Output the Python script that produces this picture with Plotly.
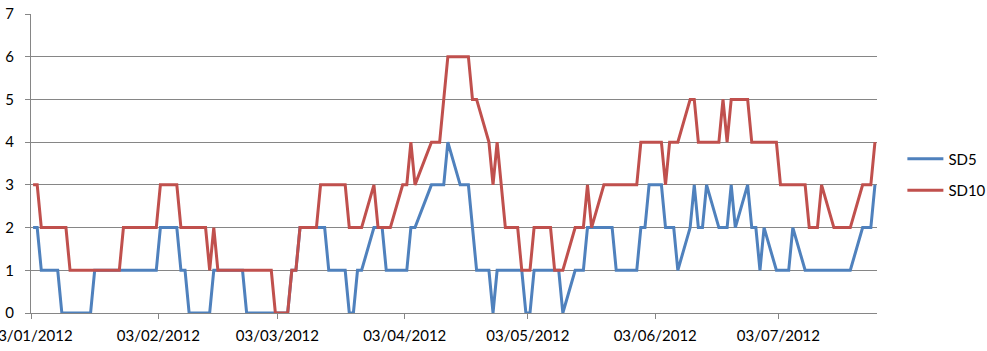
import plotly.graph_objects as go
import pandas as pd

# ---- data ----
sd5_dates = ["2012-01-03","2012-01-04","2012-01-05","2012-01-09","2012-01-10","2012-01-17","2012-01-18",
             "2012-02-02","2012-02-03","2012-02-07","2012-02-08","2012-02-09","2012-02-10","2012-02-15",
             "2012-02-16","2012-02-23","2012-02-24","2012-03-05","2012-03-06","2012-03-07","2012-03-08",
             "2012-03-14","2012-03-15","2012-03-19","2012-03-20","2012-03-21","2012-03-22","2012-03-23",
             "2012-03-26","2012-03-28","2012-03-29","2012-04-03","2012-04-04","2012-04-05","2012-04-09",
             "2012-04-12","2012-04-13","2012-04-16","2012-04-18","2012-04-20","2012-04-23","2012-04-24",
             "2012-04-25","2012-05-01","2012-05-02","2012-05-03","2012-05-04","2012-05-10","2012-05-11",
             "2012-05-14","2012-05-16","2012-05-17","2012-05-23","2012-05-24","2012-05-29","2012-05-30",
             "2012-05-31","2012-06-01","2012-06-04","2012-06-05","2012-06-07","2012-06-08","2012-06-11",
             "2012-06-12","2012-06-13","2012-06-14","2012-06-15","2012-06-18","2012-06-20","2012-06-21",
             "2012-06-22","2012-06-25","2012-06-26","2012-06-27","2012-06-28","2012-06-29","2012-07-02",
             "2012-07-05","2012-07-06","2012-07-09","2012-07-20","2012-07-23","2012-07-25","2012-07-26"]
sd5_values = [2,2,1,1,0,0,1,1,2,2, 1,1,0,0,1,1,0,0,1,1, 2,2,1,1,0,0,1,1,2,2,
              1,1,2,2,3,3,4,3,3,1, 1,0,1,1,0,0,1,1,0,1, 1,2,2,1,1,2,2,3,3,2,
              2,1,2,3,2,2,3,2,2,3, 2,3,2,2,1,2,1,1,2,1, 1,2,2,3]

sd10_dates = ["2012-01-03","2012-01-04","2012-01-05","2012-01-11","2012-01-12","2012-01-24","2012-01-25",
              "2012-02-02","2012-02-03","2012-02-07","2012-02-08","2012-02-14","2012-02-15","2012-02-16",
              "2012-02-17","2012-03-01","2012-03-02","2012-03-05","2012-03-06","2012-03-07","2012-03-08",
              "2012-03-12","2012-03-13","2012-03-19","2012-03-20","2012-03-23","2012-03-26","2012-03-27",
              "2012-03-30","2012-04-02","2012-04-03","2012-04-04","2012-04-05","2012-04-09","2012-04-11",
              "2012-04-13","2012-04-18","2012-04-19","2012-04-20","2012-04-23","2012-04-24","2012-04-25",
              "2012-04-27","2012-04-30","2012-05-01","2012-05-03","2012-05-04","2012-05-08","2012-05-09",
              "2012-05-11","2012-05-14","2012-05-16","2012-05-17","2012-05-18","2012-05-21","2012-05-29",
              "2012-05-30","2012-06-04","2012-06-05","2012-06-06","2012-06-08","2012-06-11","2012-06-12",
              "2012-06-13","2012-06-18","2012-06-19","2012-06-20","2012-06-21","2012-06-25","2012-06-26",
              "2012-07-02","2012-07-03","2012-07-09","2012-07-10","2012-07-12","2012-07-13","2012-07-16",
              "2012-07-20","2012-07-23","2012-07-25","2012-07-26"]
sd10_values = [3,3,2,2,1,1,2,2,3,3, 2,2,1,2,1,1,0,0,1,1, 2,2,3,3,2,2,3,2,2,3,
               3,4,3,4,4,6,6,5,5,4, 3,4,2,2,1,1,2,2,1,1, 2,2,3,2,3,3,4,4,3,4,
               4,5,5,4,4,5,4,5,5,4, 4,3,3,2,2,3,2,2,3,3, 4]

tick_dates = ["2012-01-03","2012-02-03","2012-03-03","2012-04-03","2012-05-03","2012-06-03","2012-07-03"]
tick_labels = ["03/01/2012","03/02/2012","03/03/2012","03/04/2012","03/05/2012","03/06/2012","03/07/2012"]

assert len(sd5_dates) == len(sd5_values)
assert len(sd10_dates) == len(sd10_values)

FONT = "Lato"
GRID = "#868686"

# Excel date axis "between tick marks": each day is a slot, tick at slot start
half_day = pd.Timedelta(hours=12)
tickvals = [pd.Timestamp(d) - half_day for d in tick_dates]
x_range = [pd.Timestamp(sd5_dates[0]) - half_day - pd.Timedelta(minutes=10),
           pd.Timestamp(sd5_dates[-1]) + half_day]

fig = go.Figure()
fig.add_trace(go.Scatter(x=sd5_dates, y=sd5_values, mode="lines", name="SD5",
                         line=dict(color="#4F81BD", width=3), legendgroup="a"))
fig.add_trace(go.Scatter(x=sd10_dates, y=sd10_values, mode="lines", name="SD10",
                         line=dict(color="#C0504D", width=3), legendgroup="b"))

fig.update_layout(
    width=987, height=351,
    margin=dict(l=31, r=110, t=14, b=38, pad=0, autoexpand=False),
    paper_bgcolor="white", plot_bgcolor="white",
    font=dict(family=FONT, size=15, color="black"),
    hovermode=False,
    legend=dict(x=1.03, xanchor="left", y=0.463, yanchor="middle",
                font=dict(family=FONT, size=15, color="black"),
                tracegroupgap=9, itemwidth=36, bgcolor="rgba(0,0,0,0)"),
    xaxis=dict(type="date", range=x_range, tickmode="array", tickvals=tickvals, ticktext=tick_labels,
               showgrid=False, showline=True, linecolor=GRID, linewidth=1, automargin=False,
               ticks="outside", ticklen=5, tickcolor=GRID, zeroline=False, ticklabeloverflow="allow",
               tickfont=dict(family=FONT, size=15, color="black"), ticklabelstandoff=4),
    yaxis=dict(range=[0, 7], dtick=1, tick0=0, showgrid=True, gridcolor=GRID, gridwidth=1,
               showline=True, linecolor=GRID, linewidth=1, zeroline=False, automargin=False,
               ticks="outside", ticklen=5, tickcolor=GRID,
               tickfont=dict(family=FONT, size=15, color="black"), ticklabelstandoff=8),
)

fig.write_html("out.html")
